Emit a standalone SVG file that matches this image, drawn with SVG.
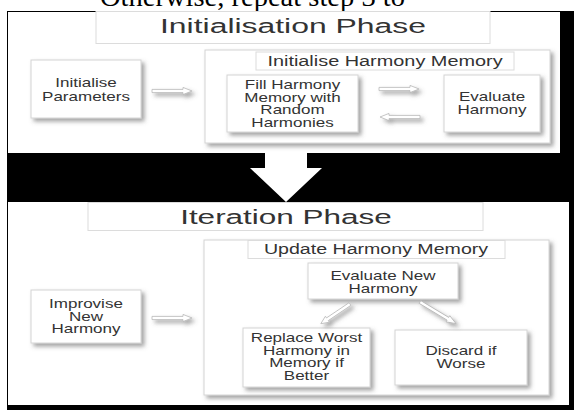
<svg xmlns="http://www.w3.org/2000/svg" width="574" height="410" viewBox="0 0 574 410">
<defs>
<style>
.t{font-family:"Liberation Sans",Arial,sans-serif;fill:#333;text-anchor:middle}
.n{font-size:12px}
.s{font-size:14px}
.h{font-size:21px}
.box{fill:#fff;stroke:#d4d4d4;stroke-width:1}
.tb{fill:#fff;stroke:#dcdcdc;stroke-width:1}
.arr{fill:#fff;stroke:#b8b8b8;stroke-width:0.8}
</style>
<filter id="sh" x="-20%" y="-20%" width="150%" height="150%">
<feDropShadow dx="3" dy="3" stdDeviation="2" flood-color="#555" flood-opacity="0.55"/>
</filter>
<path id="ar" d="M0,-1.6 L31,-1.6 L31,-3.6 L40,0 L31,3.6 L31,1.6 L0,1.6 Z"/>
</defs>
<rect x="0" y="0" width="574" height="410" fill="#fff"/>
<text x="100" y="6" font-family="Liberation Serif,serif" font-size="28" textLength="305" lengthAdjust="spacingAndGlyphs" fill="#000">Otherwise, repeat step 3 to</text>
<rect x="7" y="11" width="567" height="399" fill="#000"/>
<g id="panel-top">
<rect x="8" y="12" width="552" height="141" fill="#fff"/>
</g>
<g id="panel-bottom">
<rect x="8" y="202" width="561" height="203" fill="#fff"/>
</g>
<g id="big-arrow">
<polygon points="265,153 307,153 307,168 322,168 286,202 250,168 265,168" fill="#fff"/>
</g>
<g id="title-init">
<rect class="tb" x="96" y="11.5" width="394" height="32"/>
<text class="t h" transform="matrix(1.52,0,0,1,293,33)">Initialisation Phase</text>
</g>
<g id="container-init">
<rect class="box" x="205" y="50" width="345" height="93" filter="url(#sh)"/>
<rect class="tb" x="256" y="52" width="258" height="18"/>
<text class="t s" transform="matrix(1.42,0,0,1,385,65.5)">Initialise Harmony Memory</text>
</g>
<g id="node-init-params">
<rect class="box" x="31" y="60" width="110" height="58" filter="url(#sh)"/>
<text class="t n" transform="matrix(1.42,0,0,1,86,87)">Initialise</text>
<text class="t n" transform="matrix(1.42,0,0,1,86,100.5)">Parameters</text>
</g>
<g id="node-fill">
<rect class="box" x="227" y="75" width="131" height="57" filter="url(#sh)"/>
<text class="t n" transform="matrix(1.42,0,0,1,292.5,89)">Fill Harmony</text>
<text class="t n" transform="matrix(1.42,0,0,1,292.5,101.5)">Memory with</text>
<text class="t n" transform="matrix(1.42,0,0,1,292.5,114)">Random</text>
<text class="t n" transform="matrix(1.42,0,0,1,292.5,126.5)">Harmonies</text>
</g>
<g id="node-eval">
<rect class="box" x="444" y="75" width="96" height="57" filter="url(#sh)"/>
<text class="t n" transform="matrix(1.42,0,0,1,492,101)">Evaluate</text>
<text class="t n" transform="matrix(1.42,0,0,1,492,114)">Harmony</text>
</g>
<g id="title-iter">
<rect class="tb" x="88" y="202.5" width="395" height="28"/>
<text class="t h" transform="matrix(1.5,0,0,1,286,223.5)">Iteration Phase</text>
</g>
<g id="container-update">
<rect class="box" x="204" y="240" width="345" height="155" filter="url(#sh)"/>
<rect class="tb" x="248" y="240.5" width="257" height="18"/>
<text class="t s" transform="matrix(1.4,0,0,1,376,254)">Update Harmony Memory</text>
</g>
<g id="node-improvise">
<rect class="box" x="31" y="290" width="110" height="53" filter="url(#sh)"/>
<text class="t n" transform="matrix(1.42,0,0,1,86,308)">Improvise</text>
<text class="t n" transform="matrix(1.42,0,0,1,86,320.5)">New</text>
<text class="t n" transform="matrix(1.42,0,0,1,86,333)">Harmony</text>
</g>
<g id="node-eval-new">
<rect class="box" x="308" y="263" width="150" height="36" filter="url(#sh)"/>
<text class="t n" transform="matrix(1.42,0,0,1,383,280)">Evaluate New</text>
<text class="t n" transform="matrix(1.42,0,0,1,383,293)">Harmony</text>
</g>
<g id="node-replace">
<rect class="box" x="243" y="328" width="127" height="59" filter="url(#sh)"/>
<text class="t n" transform="matrix(1.42,0,0,1,306.5,342)">Replace Worst</text>
<text class="t n" transform="matrix(1.42,0,0,1,306.5,354.5)">Harmony in</text>
<text class="t n" transform="matrix(1.42,0,0,1,306.5,367)">Memory if</text>
<text class="t n" transform="matrix(1.42,0,0,1,306.5,379.5)">Better</text>
</g>
<g id="node-discard">
<rect class="box" x="395" y="330" width="132" height="55" filter="url(#sh)"/>
<text class="t n" transform="matrix(1.42,0,0,1,461,355)">Discard if</text>
<text class="t n" transform="matrix(1.42,0,0,1,461,367.5)">Worse</text>
</g>
<g id="connectors" filter="url(#sh)">
<use href="#ar" class="arr" transform="translate(152,91)"/>
<use href="#ar" class="arr" transform="translate(379,89)"/>
<use href="#ar" class="arr" transform="translate(420,117) rotate(180)"/>
<use href="#ar" class="arr" transform="translate(152,318)"/>
<use href="#ar" class="arr" transform="translate(350,304) rotate(146) scale(0.88,1)"/>
<use href="#ar" class="arr" transform="translate(420,302) rotate(31) scale(1.05,1)"/>
</g>
</svg>
